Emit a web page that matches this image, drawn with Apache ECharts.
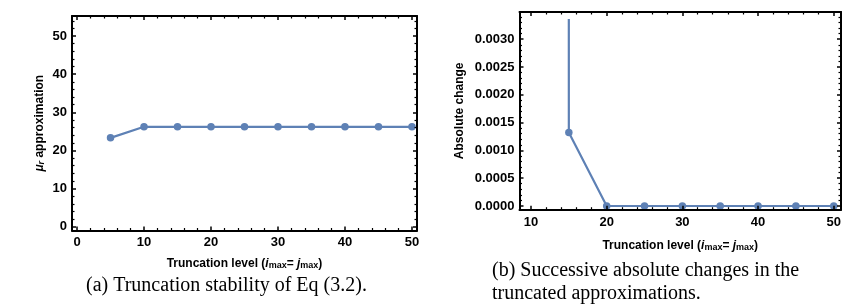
<!DOCTYPE html>
<html>
<head>
<meta charset="utf-8">
<script src="https://cdn.jsdelivr.net/npm/echarts@6/dist/echarts.min.js"></script>
<style>
html,body{margin:0;padding:0;background:#fff;}
#c{width:855px;height:308px;}
</style>
</head>
<body>
<div id="c"></div>
<script>
// ---- data ----
const levelsA = [5, 10, 15, 20, 25, 30, 35, 40, 45, 50];
const muApprox = [23.3, 26.2, 26.2, 26.2, 26.2, 26.2, 26.2, 26.2, 26.2, 26.2];
const levelsB = [10, 15, 20, 25, 30, 35, 40, 45, 50];
const absChange = [2.9, 0.00133, 0, 0, 0, 0, 0, 0, 0];
const captionA = '(a) Truncation stability of Eq (3.2).';
const captionB1 = '(b) Successive absolute changes in the';
const captionB2 = 'truncated approximations.';

const LINE = '#5E81B5';
const FONT = '"Liberation Sans", Arial, sans-serif';
const SERIF = '20px "Liberation Serif", "Times New Roman", serif';

function multFmt(step, dec, maxShown) {
  return function (v) {
    const q = v / step;
    if (Math.abs(q - Math.round(q)) > 1e-6) return '';
    if (maxShown !== undefined && v > maxShown) return '';
    return dec ? v.toFixed(dec) : String(Math.round(v));
  };
}
const richName = {
  n: {fontFamily: FONT, fontWeight: 'bold', fontSize: 12, color: '#000'},
  i: {fontFamily: FONT, fontWeight: 'bold', fontStyle: 'italic', fontSize: 12, color: '#000'},
  s: {fontFamily: FONT, fontWeight: 'bold', fontSize: 9, color: '#000', verticalAlign: 'bottom', padding: [4, 0, 0, 0]},
  si: {fontFamily: FONT, fontWeight: 'bold', fontStyle: 'italic', fontSize: 9, color: '#000', verticalAlign: 'bottom', padding: [4, 0, 0, 0]}
};
const xName = '{n|Truncation level (}{i|i}{s|max}{n|= }{i|j}{s|max}{n|)}';

function frameAxis(opts) {
  const a = {
    type: 'value',
    gridIndex: opts.gridIndex,
    position: opts.position,
    min: opts.min, max: opts.max,
    splitNumber: opts.splitNumber,
    scale: true,
    axisLine: {show: true, onZero: false, lineStyle: {color: '#000', width: 2}},
    axisTick: {show: true, inside: true, length: 4, lineStyle: {color: '#000', width: 1.5}},
    minorTick: {show: true, splitNumber: 5, length: 2.5, lineStyle: {color: '#000', width: 1.2}},
    splitLine: {show: false},
    minorSplitLine: {show: false},
    axisLabel: {show: !!opts.showLabel, formatter: opts.fmt, margin: opts.margin || 5,
      fontFamily: FONT, fontWeight: 'bold', fontSize: 13, color: '#000',
      showMinLabel: true, showMaxLabel: true},
    z: 5
  };
  if (opts.name) {
    a.name = opts.name;
    a.nameLocation = 'middle';
    a.nameGap = opts.nameGap;
    a.nameMoveOverlap = false;
    if (opts.nameRotate !== undefined) a.nameRotate = opts.nameRotate;
    a.nameTextStyle = {rich: richName, fontFamily: FONT, fontWeight: 'bold', fontSize: 12, color: '#000'};
  }
  return a;
}

const xRangeA = [-0.75, 50.75], yRangeA = [-1.0, 55.26];
const xRangeB = [8.48, 50.96], yRangeB = [-0.000067, 0.00349], yClipB = [-0.000067, 0.003361];

const chart = echarts.init(document.getElementById('c'), null, {renderer: 'canvas'});
chart.setOption({
  animation: false,
  backgroundColor: '#fff',
  grid: [
    {left: 72, top: 16, width: 345, height: 214.5},
    {left: 519.5, top: 12, right: 14, bottom: 98.3},
    {left: 519.5, top: 20, right: 14, bottom: 98.3}
  ],
  xAxis: [
    frameAxis({gridIndex: 0, min: xRangeA[0], max: xRangeA[1], splitNumber: 5, position: 'bottom', showLabel: true, fmt: multFmt(10, 0), margin: 5, name: xName, nameGap: 27}),
    frameAxis({gridIndex: 0, min: xRangeA[0], max: xRangeA[1], splitNumber: 5, position: 'top'}),
    frameAxis({gridIndex: 1, min: xRangeB[0], max: xRangeB[1], splitNumber: 4, position: 'bottom', showLabel: true, fmt: multFmt(10, 0), margin: 6, name: xName, nameGap: 29}),
    frameAxis({gridIndex: 1, min: xRangeB[0], max: xRangeB[1], splitNumber: 4, position: 'top'}),
    {type: 'value', gridIndex: 2, min: xRangeB[0], max: xRangeB[1], show: false}
  ],
  yAxis: [
    frameAxis({gridIndex: 0, min: yRangeA[0], max: yRangeA[1], splitNumber: 5, position: 'left', showLabel: true, fmt: multFmt(10, 0), margin: 5,
      name: '{i|μ}{si|r}{n| approximation}', nameGap: 26, nameRotate: 90}),
    frameAxis({gridIndex: 0, min: yRangeA[0], max: yRangeA[1], splitNumber: 5, position: 'right'}),
    frameAxis({gridIndex: 1, min: yRangeB[0], max: yRangeB[1], splitNumber: 7, position: 'left', showLabel: true, fmt: multFmt(0.0005, 4, 0.0031), margin: 5,
      name: '{n|Absolute change}', nameGap: 54, nameRotate: 90}),
    frameAxis({gridIndex: 1, min: yRangeB[0], max: yRangeB[1], splitNumber: 7, position: 'right'}),
    {type: 'value', gridIndex: 2, min: yClipB[0], max: yClipB[1], show: false}
  ],
  series: [
    {
      type: 'line', xAxisIndex: 0, yAxisIndex: 0,
      data: levelsA.map((x, i) => [x, muApprox[i]]),
      symbol: 'circle', symbolSize: 7.5, showSymbol: true,
      lineStyle: {color: LINE, width: 2.2}, itemStyle: {color: LINE},
      clip: true, z: 3
    },
    {
      type: 'line', xAxisIndex: 4, yAxisIndex: 4,
      data: levelsB.map((x, i) => [x, absChange[i]]),
      symbol: 'circle', symbolSize: 7.5, showSymbol: true,
      lineStyle: {color: LINE, width: 2.2}, itemStyle: {color: LINE},
      clip: true, z: 3
    }
  ],
  graphic: [
    {type: 'text', left: 86, top: 276, style: {text: captionA, font: SERIF, fill: '#000'}},
    {type: 'text', left: 492, top: 261, style: {text: captionB1, font: SERIF, fill: '#000'}},
    {type: 'text', left: 492, top: 284, style: {text: captionB2, font: SERIF, fill: '#000'}}
  ]
});
</script>
</body>
</html>
